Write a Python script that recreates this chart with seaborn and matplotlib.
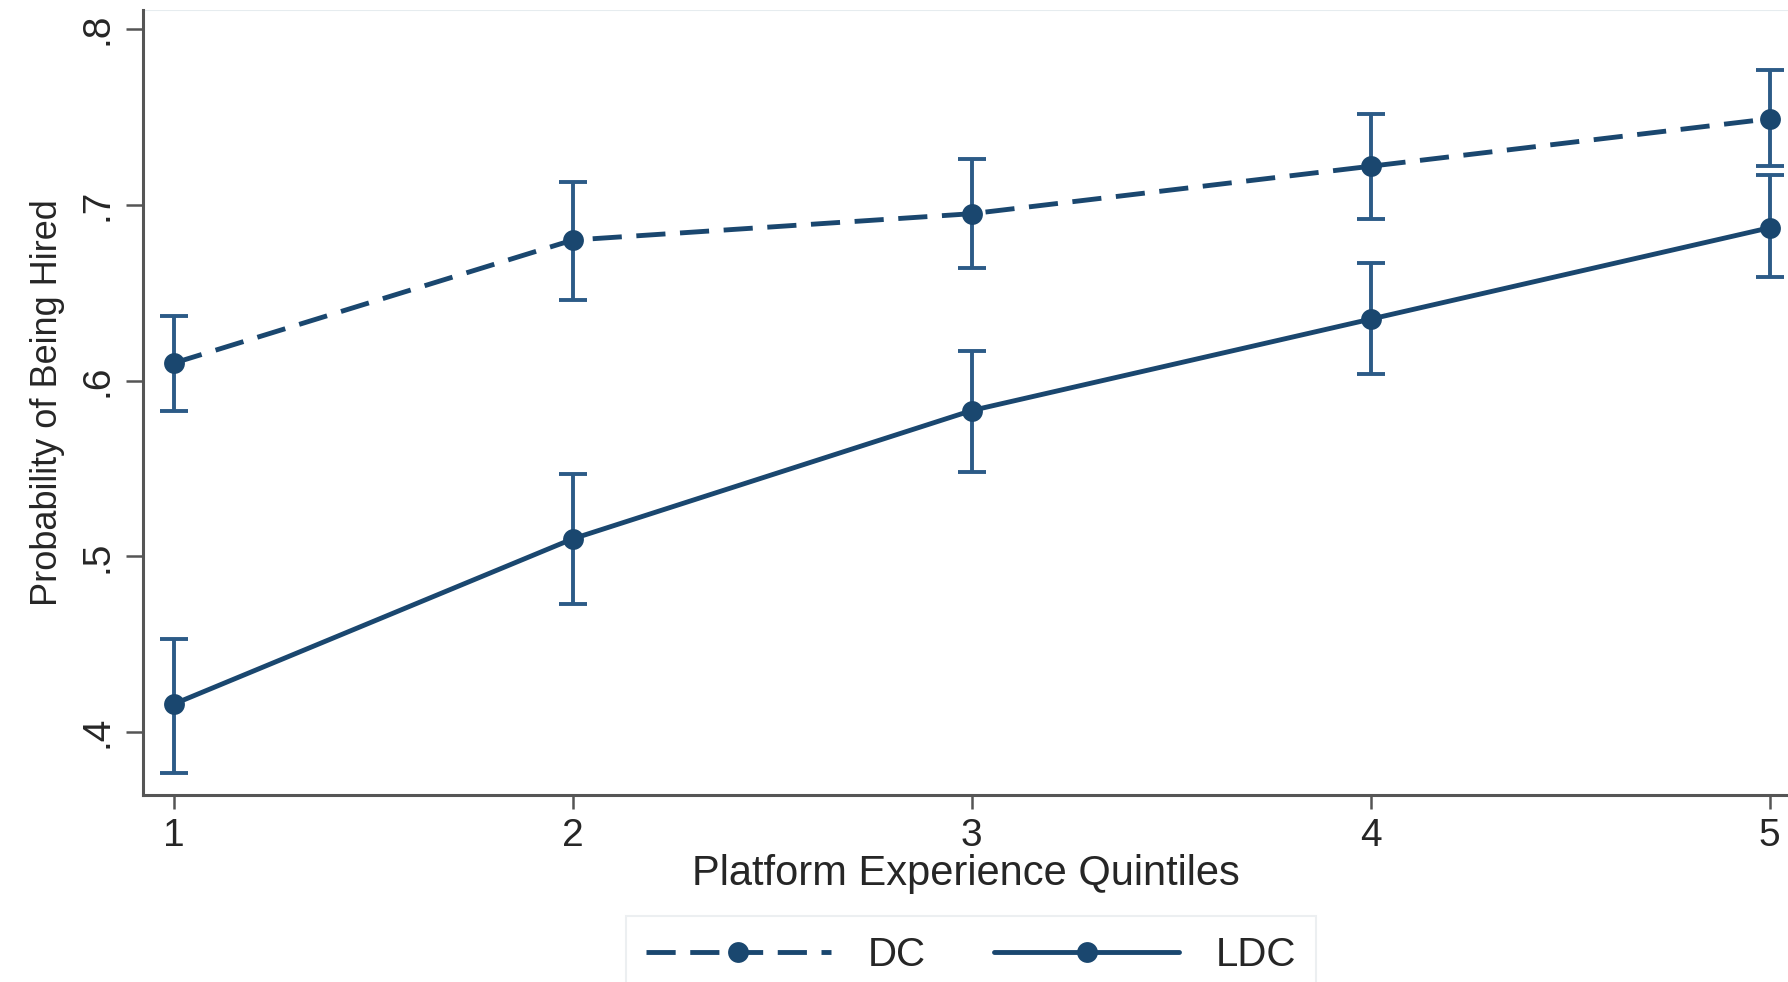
import pandas as pd
import matplotlib.pyplot as plt
import seaborn as sns

# values
quintiles = [1, 2, 3, 4, 5]
dc_prob = [0.610, 0.680, 0.695, 0.722, 0.749]
dc_lo = [0.583, 0.646, 0.664, 0.692, 0.722]
dc_hi = [0.637, 0.713, 0.726, 0.752, 0.777]
ldc_prob = [0.416, 0.510, 0.583, 0.635, 0.687]
ldc_lo = [0.377, 0.473, 0.548, 0.604, 0.659]
ldc_hi = [0.453, 0.547, 0.617, 0.667, 0.717]
groups = ["DC", "LDC"]

navy = "#1a476f"
bar_col = "#2c5b87"

df = pd.DataFrame({
    "quintile": quintiles * 2,
    "prob": dc_prob + ldc_prob,
    "lo": dc_lo + ldc_lo,
    "hi": dc_hi + ldc_hi,
    "group": [groups[0]] * 5 + [groups[1]] * 5,
})

sns.set_theme(style="white")
plt.rcParams["font.family"] = ["Liberation Sans", "DejaVu Sans"]

fig = plt.figure(figsize=(17.88, 9.82), dpi=100)
ax = fig.add_axes([0.080, 0.190, 0.920, 0.800])

# confidence intervals
for g in groups:
    sub = df[df["group"] == g]
    ax.errorbar(sub["quintile"], sub["prob"],
                yerr=[sub["prob"] - sub["lo"], sub["hi"] - sub["prob"]],
                fmt="none", ecolor=bar_col, elinewidth=2.8, capsize=10, capthick=2.8, zorder=2)

sns.lineplot(data=df, x="quintile", y="prob", style="group", style_order=groups,
             dashes={"DC": (6.0, 3.0), "LDC": ""}, markers={"DC": "o", "LDC": "o"},
             color=navy, linewidth=3.5, markersize=15, markeredgewidth=0,
             ax=ax, zorder=3, legend=True)

ax.set_xlim(0.923, 5.046)
ax.set_ylim(0.364, 0.811)
ax.set_xticks(quintiles)
ax.set_yticks([0.4, 0.5, 0.6, 0.7, 0.8])
ax.set_yticklabels([".4", ".5", ".6", ".7", ".8"], rotation=90, va="center")
ax.tick_params(axis="y", which="major", length=12, width=1.8, color="#555555",
               labelsize=28, pad=8, left=True)
ax.tick_params(axis="x", which="major", length=10, width=1.8, color="#555555",
               labelsize=28, pad=6, bottom=True)

for side in ["top", "right"]:
    ax.spines[side].set_visible(False)
for side in ["left", "bottom"]:
    ax.spines[side].set_color("#555555")
    ax.spines[side].set_linewidth(2.2)

ax.set_xlabel("Platform Experience Quintiles", fontsize=30, labelpad=0)
ax.set_ylabel("Probability of Being Hired", fontsize=26, labelpad=10)

# faint top frame line as in the source
ax.axhline(0.811, color="#e6ecef", linewidth=1.5, zorder=0)

handles, labels = ax.get_legend_handles_labels()
ax.legend_.remove()
leg = fig.legend(handles, labels, loc="upper center", bbox_to_anchor=(0.543, 0.088),
                 ncol=2, fontsize=29, frameon=True, fancybox=False, handlelength=4.6,
                 columnspacing=1.7, borderpad=0.5, handletextpad=0.9)
leg.get_frame().set_edgecolor("#e8ecee")
leg.get_frame().set_linewidth(1.5)

plt.savefig("out.png", dpi=100)
